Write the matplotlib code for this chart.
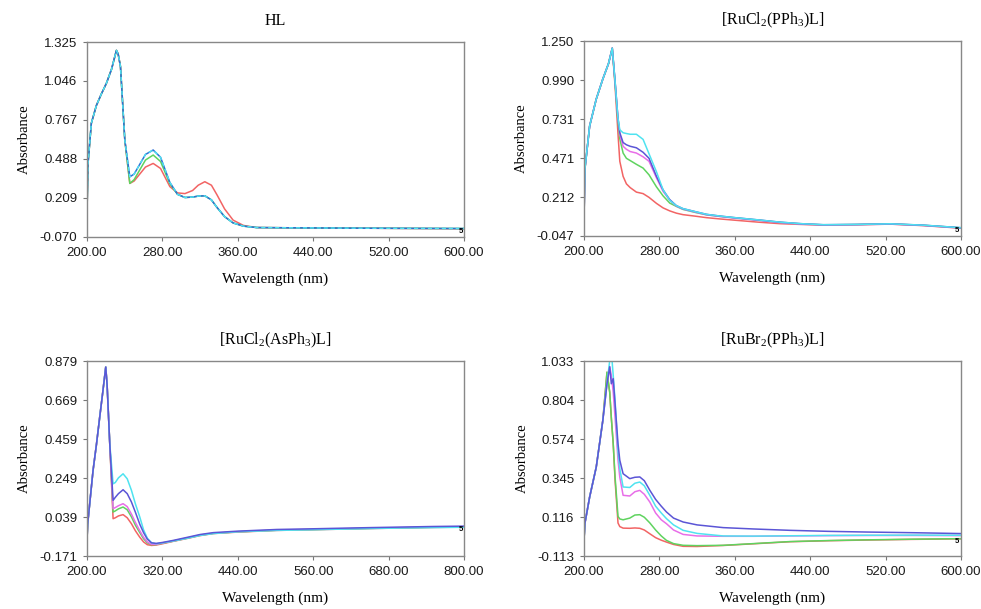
import matplotlib.pyplot as plt
plt.rcParams["text.parse_math"] = True

# ---- colours of the spectrometer traces
RED, GREEN, CYAN, MAGENTA, PURPLE, BLUE = ("#f26464", "#5fd35f", "#4fe3f0",
                                           "#e86ee8", "#5b55d6", "#2f6fd6")

# ---- HL
hl_x = [200, 201, 204.6, 209.9, 215, 220.6, 226, 231.2, 233, 235.5, 240.1, 245.4,
        250, 256, 262, 270.2, 278, 287.9, 296, 303.9, 312, 318, 325, 332, 338,
        346, 355, 366, 380, 420, 500, 600]
hl_blue = [0.10, 0.45, 0.744, 0.87, 0.95, 1.03, 1.13, 1.265, 1.24, 1.15, 0.624, 0.36,
           0.38, 0.45, 0.52, 0.552, 0.50, 0.32, 0.235, 0.212, 0.215, 0.222, 0.224,
           0.195, 0.14, 0.075, 0.03, 0.007, -0.003, -0.005, -0.008, -0.010]
hl_green = [0.10, 0.45, 0.744, 0.87, 0.95, 1.03, 1.13, 1.265, 1.24, 1.15, 0.624, 0.313,
            0.34, 0.41, 0.48, 0.516, 0.47, 0.31, 0.235, 0.212, 0.215, 0.222, 0.224,
            0.195, 0.14, 0.075, 0.03, 0.007, -0.003, -0.005, -0.008, -0.010]
hl_red = [0.10, 0.45, 0.744, 0.87, 0.95, 1.03, 1.13, 1.265, 1.24, 1.15, 0.624, 0.313,
          0.33, 0.38, 0.43, 0.456, 0.42, 0.29, 0.245, 0.24, 0.262, 0.30, 0.325,
          0.30, 0.23, 0.13, 0.05, 0.012, -0.003, -0.005, -0.008, -0.012]
hl_xticks = [200, 280, 360, 440, 520, 600]
hl_yticks = [-0.070, 0.209, 0.488, 0.767, 1.046, 1.325]

# ---- [RuCl2(PPh3)L]
p2_x = [200, 201, 206, 213, 220, 226, 230, 233, 236, 238, 241.5, 245, 249, 255.6,
        262.7, 269, 276.9, 283.9, 291, 298, 305, 318, 330, 345, 360, 385, 408, 430,
        454, 490, 525, 560, 600]
p2_rise = [0.06, 0.40, 0.685, 0.864, 0.998, 1.10, 1.203]
p2_cyan = p2_rise + [0.98, 0.74, 0.66, 0.64, 0.635, 0.63, 0.63, 0.596, 0.50, 0.38,
                     0.26, 0.19, 0.155, 0.135, 0.115, 0.097, 0.085, 0.075, 0.06,
                     0.045, 0.035, 0.028, 0.03, 0.034, 0.025, 0.008]
p2_purple = p2_rise + [0.98, 0.74, 0.64, 0.575, 0.56, 0.55, 0.54, 0.51, 0.47, 0.35,
                       0.26, 0.195, 0.155, 0.135, 0.115, 0.097, 0.085, 0.075, 0.06,
                       0.045, 0.035, 0.028, 0.03, 0.034, 0.025, 0.008]
p2_magenta = p2_rise + [0.98, 0.74, 0.63, 0.55, 0.53, 0.515, 0.505, 0.48, 0.45, 0.34,
                        0.25, 0.19, 0.152, 0.132, 0.112, 0.094, 0.082, 0.072, 0.057,
                        0.042, 0.032, 0.026, 0.028, 0.032, 0.023, 0.006]
p2_green = p2_rise + [0.97, 0.72, 0.60, 0.505, 0.47, 0.455, 0.43, 0.405, 0.36, 0.28,
                      0.22, 0.172, 0.15, 0.13, 0.11, 0.094, 0.083, 0.073, 0.058,
                      0.043, 0.033, 0.027, 0.029, 0.033, 0.024, 0.007]
p2_red = p2_rise + [0.95, 0.64, 0.45, 0.35, 0.30, 0.275, 0.245, 0.235, 0.21, 0.17,
                    0.14, 0.12, 0.105, 0.095, 0.085, 0.075, 0.066, 0.058, 0.045,
                    0.035, 0.030, 0.025, 0.028, 0.032, 0.022, 0.005]
p2_xticks = [200, 280, 360, 440, 520, 600]
p2_yticks = [-0.047, 0.212, 0.471, 0.731, 0.990, 1.250]

# ---- [RuCl2(AsPh3)L]
p3_x = [200, 201, 209.6, 215, 220.2, 225, 229.8, 232, 236.2, 241.5, 245, 250, 257.4,
        264, 270.7, 277, 284, 290, 296, 302.7, 310, 320, 337, 360, 380, 401, 440,
        502, 550, 592.6, 650, 700, 750, 800]
p3_rise = [-0.087, 0.0, 0.29, 0.43, 0.577, 0.71, 0.847, 0.75, 0.434]
p3_cyan = p3_rise + [0.218, 0.225, 0.25, 0.272, 0.245, 0.183, 0.11, 0.039, -0.03,
                     -0.075, -0.100, -0.105, -0.10, -0.09, -0.075, -0.06, -0.05,
                     -0.04, -0.033, -0.03, -0.027, -0.023, -0.02, -0.018, -0.016]
p3_purple = p3_rise + [0.129, 0.145, 0.165, 0.186, 0.165, 0.12, 0.065, 0.0, -0.045,
                       -0.08, -0.100, -0.103, -0.098, -0.087, -0.07, -0.055, -0.045,
                       -0.037, -0.028, -0.025, -0.022, -0.018, -0.015, -0.012, -0.010]
p3_magenta = p3_rise + [0.084, 0.09, 0.10, 0.111, 0.095, 0.055, 0.01, -0.035, -0.07,
                        -0.095, -0.108, -0.108, -0.101, -0.09, -0.073, -0.058, -0.048,
                        -0.04, -0.031, -0.028, -0.025, -0.021, -0.018, -0.015, -0.013]
p3_green = p3_rise + [0.066, 0.072, 0.083, 0.093, 0.078, 0.04, -0.005, -0.045, -0.078,
                      -0.10, -0.11, -0.109, -0.102, -0.091, -0.074, -0.059, -0.049,
                      -0.041, -0.032, -0.029, -0.026, -0.022, -0.019, -0.016, -0.014]
p3_red = p3_rise + [0.03, 0.035, 0.045, 0.052, 0.035, 0.003, -0.035, -0.07, -0.095,
                    -0.11, -0.114, -0.112, -0.105, -0.092, -0.076, -0.061, -0.05,
                    -0.042, -0.033, -0.03, -0.027, -0.023, -0.02, -0.017, -0.015]
p3_xticks = [200, 320, 440, 560, 680, 800]
p3_yticks = [-0.171, 0.039, 0.249, 0.459, 0.669, 0.879]

# ---- [RuBr2(PPh3)L]
p4_x = [200, 201, 206, 213, 220, 224.4, 227.3, 229, 231, 233, 236.1, 238, 241.5,
        248.6, 254, 259.2, 264, 269.8, 276, 282, 287.5, 295, 305.2, 320, 347.7, 380,
        418.6, 460, 500, 550, 600]
p4_cyan = [-0.02, 0.08, 0.234, 0.41, 0.685, 0.90, 1.037, 1.09, 0.95, 0.80, 0.50, 0.40,
           0.293, 0.29, 0.315, 0.322, 0.30, 0.244, 0.18, 0.14, 0.107, 0.07, 0.038,
           0.02, 0.005, 0.004, 0.006, 0.008, 0.009, 0.010, 0.009]
p4_purple = [-0.02, 0.08, 0.234, 0.41, 0.685, 0.90, 1.00, 0.90, 0.93, 0.78, 0.548,
             0.45, 0.371, 0.342, 0.35, 0.352, 0.33, 0.274, 0.22, 0.18, 0.146, 0.11,
             0.087, 0.07, 0.054, 0.046, 0.038, 0.032, 0.028, 0.024, 0.019]
p4_magenta = [-0.02, 0.08, 0.234, 0.41, 0.685, 0.90, 1.00, 0.95, 0.85, 0.70, 0.45,
              0.35, 0.244, 0.24, 0.265, 0.273, 0.25, 0.205, 0.14, 0.10, 0.077, 0.04,
              0.014, 0.005, 0.003, 0.003, 0.005, 0.007, 0.008, 0.008, 0.007]
p4_green = [-0.02, 0.08, 0.234, 0.41, 0.685, 0.968, 0.85, 0.70, 0.548, 0.35, 0.12,
            0.105, 0.10, 0.11, 0.128, 0.13, 0.115, 0.082, 0.04, 0.005, -0.021, -0.04,
            -0.05, -0.052, -0.05, -0.04, -0.028, -0.022, -0.018, -0.014, -0.011]
p4_red = [-0.02, 0.08, 0.234, 0.41, 0.685, 0.968, 0.85, 0.70, 0.548, 0.33, 0.081,
          0.06, 0.051, 0.05, 0.052, 0.05, 0.04, 0.018, -0.005, -0.02, -0.031, -0.045,
          -0.056, -0.057, -0.051, -0.041, -0.029, -0.023, -0.019, -0.015, -0.012]
p4_xticks = [200, 280, 360, 440, 520, 600]
p4_yticks = [-0.113, 0.116, 0.345, 0.574, 0.804, 1.033]

panels = [
    ("HL", (0.0887, 0.611), hl_xticks, hl_yticks, hl_x,
     [(hl_red, RED), (hl_green, GREEN), (hl_blue, BLUE), (hl_blue, CYAN)]),
    (r"[RuCl$_2$(PPh$_3$)L]", (0.5953, 0.6125), p2_xticks, p2_yticks, p2_x,
     [(p2_red, RED), (p2_green, GREEN), (p2_magenta, MAGENTA), (p2_purple, PURPLE),
      (p2_cyan, CYAN)]),
    (r"[RuCl$_2$(AsPh$_3$)L]", (0.0887, 0.087), p3_xticks, p3_yticks, p3_x,
     [(p3_red, RED), (p3_green, GREEN), (p3_magenta, MAGENTA), (p3_cyan, CYAN),
      (p3_purple, PURPLE)]),
    (r"[RuBr$_2$(PPh$_3$)L]", (0.5953, 0.087), p4_xticks, p4_yticks, p4_x,
     [(p4_red, RED), (p4_green, GREEN), (p4_magenta, MAGENTA), (p4_cyan, CYAN),
      (p4_purple, PURPLE)]),
]

serif = "Liberation Serif"
sans = "Liberation Sans"
plt.rcParams["mathtext.fontset"] = "custom"
plt.rcParams["mathtext.rm"] = serif
plt.rcParams["mathtext.it"] = serif

fig = plt.figure(figsize=(9.81, 6.09), dpi=100)
for i, (title, (x0, y0), xt, yt, xs, series) in enumerate(panels):
    ax = fig.add_axes([x0, y0, 0.3843, 0.320])
    for ys, col in series:
        if i == 0 and col == CYAN:
            ax.plot(xs, ys, color=col, lw=1.0, ls=(0, (3, 2)))
        else:
            ax.plot(xs, ys, color=col, lw=1.1)
    ax.set_xlim(xt[0], xt[-1])
    ax.set_ylim(yt[0], yt[-1])
    ax.set_xticks(xt, [f"{v:.2f}" for v in xt])
    ax.set_yticks(yt, [f"{v:.3f}" for v in yt])
    for lab in ax.get_xticklabels() + ax.get_yticklabels():
        lab.set_fontfamily(sans)
        lab.set_fontsize(9.5)
        lab.set_color("#1a1a1a")
    ax.tick_params(direction="out", length=3, width=0.8, color="#777777", pad=4)
    for s in ax.spines.values():
        s.set_color("#888888")
        s.set_linewidth(1.0)
    ax.set_title(title, family=serif, fontsize=11.5, pad=12)
    ax.set_xlabel("Wavelength (nm)", family=serif, fontsize=11, labelpad=10)
    ax.set_ylabel("Absorbance", family=serif, fontsize=10.5, labelpad=6)
    span_x = xt[-1] - xt[0]
    span_y = yt[-1] - yt[0]
    ax.text(xt[-1] - span_x * 0.004, series[0][0][-1] - span_y * 0.012,
            "5", ha="right", va="center", fontsize=5.5, fontweight="bold", family=sans)

fig.savefig("out.png", dpi=100)
